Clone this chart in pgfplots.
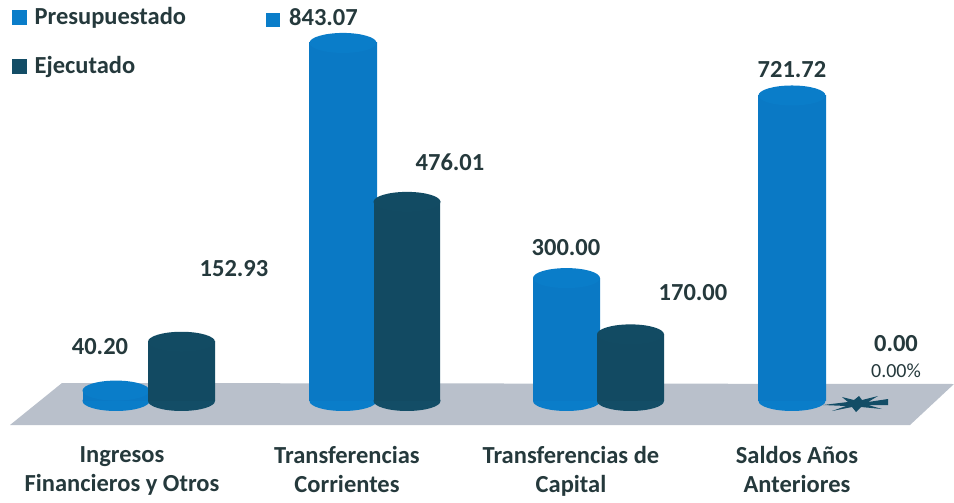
\documentclass[border=0pt]{standalone}
\usepackage{fontspec}
\setmainfont{Carlito}
\usepackage{pgfplots}
\pgfplotsset{compat=1.18}

\definecolor{azul}{HTML}{0A7DC9}
\definecolor{azulE}{HTML}{0A79C5}
\definecolor{azulT}{HTML}{0A7DC9}
\definecolor{oscuro}{HTML}{134D66}
\definecolor{oscuroE}{HTML}{124A62}
\definecolor{oscuroT}{HTML}{124B63}
\definecolor{piso}{HTML}{B9C0CB}
\definecolor{texto}{HTML}{25393C}

% cylinder end, in picture points
\pgfdeclareplotmark{tapa}{%
  \pgfpathellipse{\pgfpointorigin}{\pgfqpoint{33.5pt}{0pt}}{\pgfqpoint{0pt}{10pt}}%
  \pgfusepathqfill}
% what is left of a zero-height cylinder
\pgfdeclareplotmark{estrella}{%
  \pgfpathmoveto{\pgfqpoint{32pt}{5pt}}%
  \pgfpathlineto{\pgfqpoint{12pt}{2pt}}\pgfpathlineto{\pgfqpoint{22pt}{8pt}}%
  \pgfpathlineto{\pgfqpoint{6pt}{4pt}}\pgfpathlineto{\pgfqpoint{3pt}{8pt}}%
  \pgfpathlineto{\pgfqpoint{-2pt}{4pt}}\pgfpathlineto{\pgfqpoint{-14pt}{7pt}}%
  \pgfpathlineto{\pgfqpoint{-8pt}{2pt}}\pgfpathlineto{\pgfqpoint{-33pt}{-1pt}}%
  \pgfpathlineto{\pgfqpoint{-10pt}{-2pt}}\pgfpathlineto{\pgfqpoint{-24pt}{-7pt}}%
  \pgfpathlineto{\pgfqpoint{-4pt}{-3pt}}\pgfpathlineto{\pgfqpoint{0pt}{-8pt}}%
  \pgfpathlineto{\pgfqpoint{5pt}{-3pt}}\pgfpathlineto{\pgfqpoint{26pt}{-5pt}}%
  \pgfpathlineto{\pgfqpoint{12pt}{-1pt}}\pgfpathlineto{\pgfqpoint{32pt}{-1pt}}%
  \pgfpathclose
  \pgfusepathqfill}

% x left, x right, value, series colour prefix
\newcommand{\cilindro}[4]{%
  \addplot[only marks,mark=tapa,mark options={draw=none,fill=#4},forget plot] coordinates {({(#1+#2)/2},16.2)};
  \addplot[draw=none,left color=#4E,middle color=#4,right color=#4E,forget plot]
    coordinates {(#1,16.2) (#1,#3) (#2,#3) (#2,16.2)} --cycle;
  \addplot[only marks,mark=tapa,mark options={draw=none,fill=#4T},forget plot] coordinates {({(#1+#2)/2},#3)};
}
% text centred at x, y given as picture row
\newcommand{\etiqueta}[4]{\node[text=texto,font=#4] at (axis cs:#1,{(408-#2)/0.433}) {#3};}

\begin{document}
\begin{tikzpicture}
\begin{axis}[
  scale only axis,width=954pt,height=500pt,
  xmin=0,xmax=954,ymin=-212.47,ymax=942.26,
  clip=false,clip mode=individual,
  axis y line=none,axis x line=bottom,
  x axis line style={draw=none,-},
  tick style={draw=none},
  xtick={122,347,571,797},
  xticklabels={Ingresos\\Financieros y Otros,Transferencias\\Corrientes,Transferencias de\\Capital,Saldos Años\\Anteriores},
  xticklabel style={align=center,anchor=north,yshift=59pt,text=texto,
    font=\fontsize{24.5}{28.5}\selectfont\bfseries},
  legend image code/.code={\fill[#1] (0pt,-7pt) rectangle (14pt,7pt);\path (20pt,0pt);},
  legend style={at={(axis description cs:0.0126,0.989)},anchor=north west,draw=none,fill=none,
    text=texto,font=\fontsize{24.5}{26}\selectfont\bfseries,
    row sep=26pt,inner sep=0pt,cells={anchor=west}},
]
\addlegendimage{azul}
\addlegendentry{Presupuestado}
\addlegendimage{oscuro}
\addlegendentry{Ejecutado}

% keep the whole frame in the page, the axis draws no box of its own
\path (rel axis cs:0,0) (rel axis cs:1,1);

% floor
\addplot[draw=none,fill=piso,forget plot] coordinates {(62,57.7) (954,55.4) (910,-39.3) (10,-39.3)} --cycle;

\cilindro{83}{149}{40.20}{azul}
\cilindro{148}{215}{152.93}{oscuro}
\cilindro{309}{377}{843.07}{azul}
\cilindro{374}{440}{476.01}{oscuro}
\cilindro{533}{600}{300.00}{azul}
\cilindro{597}{664}{170.00}{oscuro}
\cilindro{758}{826}{721.72}{azul}
\addplot[only marks,mark=estrella,mark options={draw=none,fill=oscuro},forget plot] coordinates {(856,9.2)};

\def\num{\fontsize{24.5}{26}\selectfont\bfseries}
\etiqueta{100}{347}{40.20}{\num}
\etiqueta{234}{269}{152.93}{\num}
\etiqueta{312}{18}{\textcolor{azul}{\rule[-1pt]{14pt}{14pt}}\hspace{9pt}843.07}{\num}
\etiqueta{450}{162}{476.01}{\num}
\etiqueta{566}{248}{300.00}{\num}
\etiqueta{693}{293}{170.00}{\num}
\etiqueta{792}{70}{721.72}{\num}
\etiqueta{896}{344}{0.00}{\num}
\etiqueta{896}{371}{0.00\%}{\fontsize{20}{22}\selectfont}
\end{axis}
\end{tikzpicture}
\end{document}
